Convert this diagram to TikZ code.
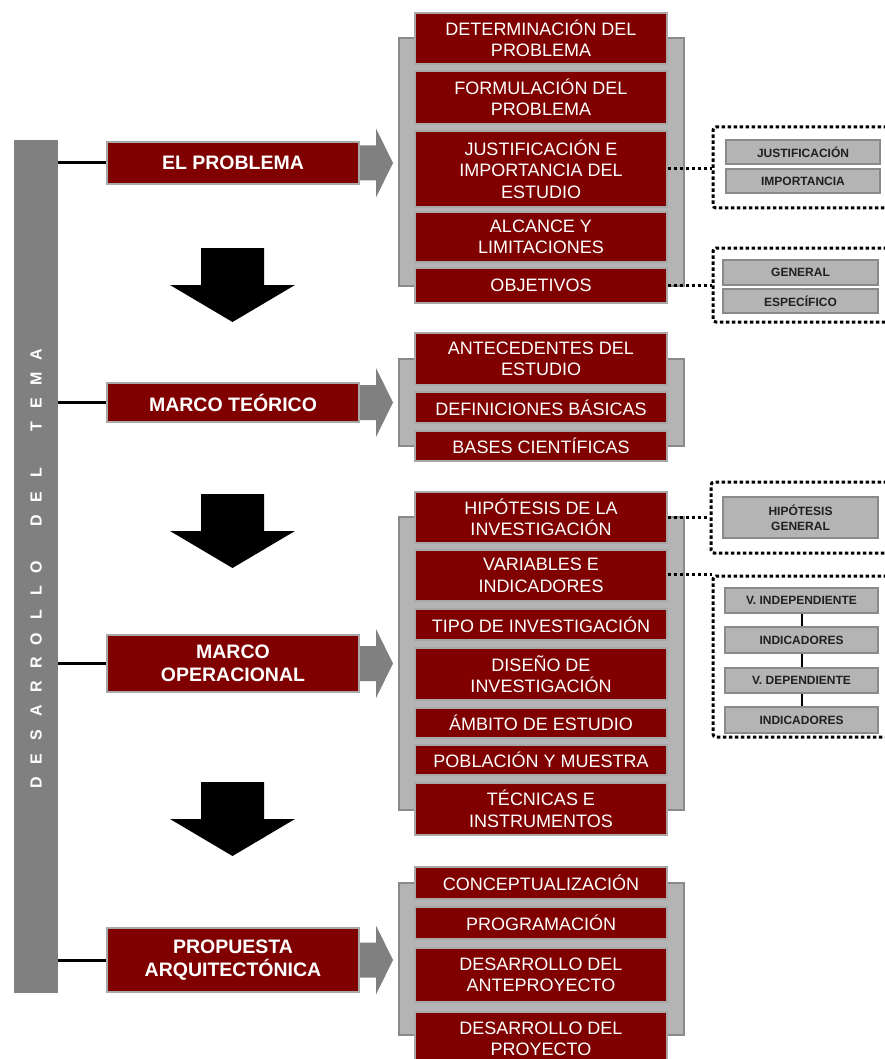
\documentclass[tikz,border=0pt]{standalone}
\usepackage{fontspec}
\setmainfont{Liberation Sans}
\usetikzlibrary{fit}
\definecolor{maroon}{HTML}{800000}
\definecolor{boxedge}{HTML}{A8A8A8}
\definecolor{panelfill}{HTML}{B4B4B4}
\definecolor{paneledge}{HTML}{8A8A8A}
\definecolor{midgray}{HTML}{808080}
\definecolor{darktext}{HTML}{202020}
\newcommand\mkbox[7]{\node[#2, minimum width=#5pt-#3pt, minimum height=#6pt-#4pt] (#1) at ({(#3+#5)/2},{(#4+#6)/2}) {#7};}
\newcommand\grayarrowat[1]{\fill[midgray] (356,#1-17.5) -- (376,#1-17.5) -- (376,#1-34.5) -- (393,#1) -- (376,#1+34.5) -- (376,#1+17.5) -- (356,#1+17.5) -- cycle;}
\newcommand\blackdownarrowat[1]{\fill[black] (201,#1) -- (264,#1) -- (264,#1+37) -- (295,#1+37) -- (232.5,#1+74) -- (170,#1+37) -- (201,#1+37) -- cycle;}
\begin{document}
\begin{tikzpicture}[x=1pt,y=-1pt,
  redbox/.style={draw=boxedge, line width=1.5pt, fill=maroon, text=white, align=center, inner sep=0pt, font=\fontsize{18}{21.5}\selectfont},
  mainbox/.style={redbox, font=\bfseries\fontsize{19.5}{23}\selectfont},
  panel/.style={draw=paneledge, line width=1.5pt, fill=panelfill, inner sep=0pt},
  greybox/.style={draw=paneledge, line width=1.5pt, fill=panelfill, text=darktext, inner sep=0pt, align=center, font=\bfseries\fontsize{12}{14.5}\selectfont},
  dotbox/.style={draw=black, line width=3pt, dash pattern=on 3.5pt off 2.5pt, rounded corners=3pt, inner sep=0pt},
  dotline/.style={draw=black, line width=3pt, dash pattern=on 3.5pt off 2.5pt},
  link/.style={draw=black, line width=3pt},
  vlink/.style={draw=black, line width=2pt},
  vletter/.style={text=white, rotate=90, inner sep=0pt, font=\bfseries\fontsize{16}{16}\selectfont}
]
\useasboundingbox (0,0) rectangle (885,1059);
\clip (0,0) rectangle (885,1059);
\fill[white] (0,0) rectangle (885,1059);

% left bar
\mkbox{bar}{fill=midgray, inner sep=0pt}{14}{140}{58}{993}{}
\foreach \l/\y [count=\i] in {D/783,E/759,S/735,A/711,R/687,R/663,O/639,L/615,L/591,O/567,D/521,E/497,L/473,T/427,E/403,M/379,A/355}
  \node[vletter] (v\i) at (36,\y) {\l};

% panels
\mkbox{pan1}{panel}{399}{38}{684}{286}{}
\mkbox{pan2}{panel}{399}{359}{684}{446}{}
\mkbox{pan3}{panel}{399}{517}{684}{810}{}
\mkbox{pan4}{panel}{399}{883}{684}{1035}{}

% gray arrows
\grayarrowat{163}
\grayarrowat{402.5}
\grayarrowat{663.5}
\grayarrowat{960}

% main boxes
\mkbox{m1}{mainbox}{107}{142}{359}{184}{EL PROBLEMA}
\mkbox{m2}{mainbox}{107}{383}{359}{422}{MARCO TEÓRICO}
\mkbox{m3}{mainbox}{107}{635}{359}{692}{MARCO\\OPERACIONAL}
\mkbox{m4}{mainbox}{107}{928}{359}{992}{PROPUESTA\\ARQUITECTÓNICA}

\foreach \m in {m1,m2,m3,m4}
  \draw[link] (bar.east |- \m.west) -- (\m.west);

% down arrows
\blackdownarrowat{248}
\blackdownarrowat{494}
\blackdownarrowat{782}

% stack 1
\mkbox{a1}{redbox}{415}{13}{667}{64}{DETERMINACIÓN DEL\\PROBLEMA}
\mkbox{a2}{redbox}{415}{71}{667}{124}{FORMULACIÓN DEL\\PROBLEMA}
\mkbox{a3}{redbox}{415}{131}{667}{207}{JUSTIFICACIÓN E\\IMPORTANCIA DEL\\ESTUDIO}
\mkbox{a4}{redbox}{415}{212}{667}{262}{ALCANCE Y\\LIMITACIONES}
\mkbox{a5}{redbox}{415}{268}{667}{303}{OBJETIVOS}

% stack 2
\mkbox{b1}{redbox}{415}{333}{667}{385}{ANTECEDENTES DEL\\ESTUDIO}
\mkbox{b2}{redbox}{415}{392}{667}{423}{DEFINICIONES BÁSICAS}
\mkbox{b3}{redbox}{415}{431}{667}{461}{BASES CIENTÍFICAS}

% stack 3
\mkbox{c1}{redbox}{415}{492}{667}{543}{HIPÓTESIS DE LA\\INVESTIGACIÓN}
\mkbox{c2}{redbox}{415}{550}{667}{601}{VARIABLES E\\INDICADORES}
\mkbox{c3}{redbox}{415}{609}{667}{640}{TIPO DE INVESTIGACIÓN}
\mkbox{c4}{redbox}{415}{648}{667}{700}{DISEÑO DE\\INVESTIGACIÓN}
\mkbox{c5}{redbox}{415}{708}{667}{738}{ÁMBITO DE ESTUDIO}
\mkbox{c6}{redbox}{415}{745}{667}{775}{POBLACIÓN Y MUESTRA}
\mkbox{c7}{redbox}{415}{783}{667}{835}{TÉCNICAS E\\INSTRUMENTOS}

% stack 4
\mkbox{e1}{redbox}{415}{867}{667}{899}{CONCEPTUALIZACIÓN}
\mkbox{e2}{redbox}{415}{907}{667}{939}{PROGRAMACIÓN}
\mkbox{e3}{redbox}{415}{948}{667}{1002}{DESARROLLO DEL\\ANTEPROYECTO}
\mkbox{e4}{redbox}{415}{1012}{667}{1066}{DESARROLLO DEL\\PROYECTO}

% dotted groups
\node[dotbox, fit={(713,127) (920,208)}] (d1) {};
\node[dotbox, fit={(713,248) (920,322)}] (d2) {};
\node[dotbox, fit={(711,482) (920,553)}] (d3) {};
\node[dotbox, fit={(713,576) (920,737)}] (d4) {};

\draw[dotline] (a3.east) -- (d1.west |- a3.east);
\draw[dotline] (a5.east) -- (d2.west |- a5.east);
\draw[dotline] (c1.east) -- (d3.west |- c1.east);
\draw[dotline] (c2.east |- d4.north) -- (d4.north west);

% grey inner boxes
\mkbox{g1}{greybox}{726}{140}{880}{164}{JUSTIFICACIÓN}
\mkbox{g2}{greybox}{726}{169}{880}{193}{IMPORTANCIA}
\mkbox{g3}{greybox}{723}{260}{878}{285}{GENERAL}
\mkbox{g4}{greybox}{723}{289}{878}{313}{ESPECÍFICO}
\mkbox{g5}{greybox}{723}{497}{878}{538}{HIPÓTESIS\\GENERAL}
\mkbox{h1}{greybox}{725}{588}{878}{613}{V. INDEPENDIENTE}
\mkbox{h2}{greybox}{725}{627}{878}{653}{INDICADORES}
\mkbox{h3}{greybox}{725}{668}{878}{693}{V. DEPENDIENTE}
\mkbox{h4}{greybox}{725}{707}{878}{733}{INDICADORES}
\draw[vlink] (h1.south) -- (h2.north);
\draw[vlink] (h2.south) -- (h3.north);
\draw[vlink] (h3.south) -- (h4.north);
\end{tikzpicture}
\end{document}
